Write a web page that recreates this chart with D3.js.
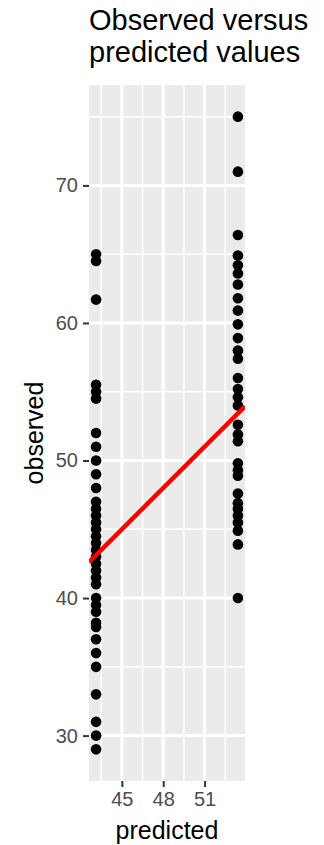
<!DOCTYPE html>
<html>
<head>
<meta charset="utf-8">
<script src="https://cdn.jsdelivr.net/npm/d3@7"></script>
<style>
  html, body { margin: 0; padding: 0; background: #fff; }
  svg { display: block; }
  text { font-family: "Liberation Sans", Arial, Helvetica, sans-serif; }
</style>
</head>
<body>
<svg id="chart" width="324" height="845"></svg>
<script>
// Fitted (predicted) value for each of the two groups
const predictedLevels = [43.13, 53.42];

// Observed values in the lower-prediction group
const observedLow = [65, 64.5, 61.7, 55.5, 55, 54.5, 52, 51, 50, 49, 48, 47,
  46.5, 46, 45.5, 45, 44.5, 44, 43.5, 43, 42.5, 42, 41.5, 41, 40, 39.5, 39,
  38.2, 37.9, 37, 36, 35, 33, 31, 30, 29];

// Observed values in the higher-prediction group
const observedHigh = [75, 71, 66.4, 64.9, 64.2, 63.6, 62.8, 61.8, 60.9, 59.9,
  58.9, 58, 57.4, 56, 55.2, 54.6, 54, 52.6, 51.9, 51.4, 49.8, 49.3, 48.9,
  47.6, 46.9, 46.5, 46, 45.5, 44.9, 43.9, 40];

// Axis breaks
const xTicks = [45, 48, 51];
const xMinor = [43.5, 46.5, 49.5, 52.5];
const yTicks = [30, 40, 50, 60, 70];
const yMinor = [35, 45, 55, 65, 75];

// Reference line observed = predicted
const refIntercept = 0;
const refSlope = 1;

const points = [
  ...observedLow.map(v => ({ x: predictedLevels[0], y: v })),
  ...observedHigh.map(v => ({ x: predictedLevels[1], y: v }))
];

const panel = { left: 89, right: 245, top: 85, bottom: 781 };

// Expand data ranges by 5% on each side
function expanded(ext) {
  const pad = (ext[1] - ext[0]) * 0.05;
  return [ext[0] - pad, ext[1] + pad];
}
const xDomain = expanded(d3.extent(points, d => d.x));
const yDomain = expanded(d3.extent(points, d => d.y));

const x = d3.scaleLinear().domain(xDomain).range([panel.left, panel.right]);
const y = d3.scaleLinear().domain(yDomain).range([panel.bottom, panel.top]);

const svg = d3.select("#chart");

svg.append("defs").append("clipPath").attr("id", "panel-clip")
  .append("rect")
  .attr("x", panel.left).attr("y", panel.top)
  .attr("width", panel.right - panel.left)
  .attr("height", panel.bottom - panel.top);

// Panel background
svg.append("rect")
  .attr("x", panel.left).attr("y", panel.top)
  .attr("width", panel.right - panel.left)
  .attr("height", panel.bottom - panel.top)
  .attr("fill", "#EBEBEB");

const grid = svg.append("g").attr("clip-path", "url(#panel-clip)");

// Minor grid
grid.selectAll(".xminor").data(xMinor).join("line")
  .attr("x1", d => x(d)).attr("x2", d => x(d))
  .attr("y1", panel.top).attr("y2", panel.bottom)
  .attr("stroke", "#fff").attr("stroke-width", 1.5);
grid.selectAll(".yminor").data(yMinor).join("line")
  .attr("y1", d => y(d)).attr("y2", d => y(d))
  .attr("x1", panel.left).attr("x2", panel.right)
  .attr("stroke", "#fff").attr("stroke-width", 1.5);

// Major grid
grid.selectAll(".xmajor").data(xTicks).join("line")
  .attr("x1", d => x(d)).attr("x2", d => x(d))
  .attr("y1", panel.top).attr("y2", panel.bottom)
  .attr("stroke", "#fff").attr("stroke-width", 3);
grid.selectAll(".ymajor").data(yTicks).join("line")
  .attr("y1", d => y(d)).attr("y2", d => y(d))
  .attr("x1", panel.left).attr("x2", panel.right)
  .attr("stroke", "#fff").attr("stroke-width", 3);

// Points
grid.selectAll("circle").data(points).join("circle")
  .attr("cx", d => x(d.x)).attr("cy", d => y(d.y))
  .attr("r", 5.3).attr("fill", "#000");

// Reference line across the full panel
grid.append("line")
  .attr("x1", x(xDomain[0])).attr("y1", y(refIntercept + refSlope * xDomain[0]))
  .attr("x2", x(xDomain[1])).attr("y2", y(refIntercept + refSlope * xDomain[1]))
  .attr("stroke", "#FF0000").attr("stroke-width", 4.5);

// Axes
const yAxis = d3.axisLeft(y).tickValues(yTicks).tickSize(6).tickPadding(5);
const xAxis = d3.axisBottom(x).tickValues(xTicks).tickSize(6).tickPadding(5);

function styleAxis(g) {
  g.select(".domain").remove();
  g.selectAll(".tick line").attr("stroke", "#333333").attr("stroke-width", 2);
  g.selectAll(".tick text")
    .attr("fill", "#4D4D4D")
    .style("font-size", "20px")
    .style("font-family", '"Liberation Sans", Arial, Helvetica, sans-serif');
}

svg.append("g").attr("transform", `translate(${panel.left},0)`)
  .call(yAxis).call(styleAxis);
svg.append("g").attr("transform", `translate(0,${panel.bottom})`)
  .call(xAxis).call(styleAxis);

// Axis titles
svg.append("text")
  .attr("x", (panel.left + panel.right) / 2).attr("y", 839)
  .attr("text-anchor", "middle")
  .style("font-size", "25px").attr("fill", "#000")
  .text("predicted");

svg.append("text")
  .attr("transform", `translate(43,${(panel.top + panel.bottom) / 2}) rotate(-90)`)
  .attr("text-anchor", "middle")
  .style("font-size", "25px").attr("fill", "#000")
  .text("observed");

// Two-line title
const title = svg.append("text")
  .attr("x", panel.left).attr("y", 29.5)
  .style("font-size", "29px").attr("fill", "#000");
title.append("tspan").attr("x", panel.left).attr("y", 29.5).text("Observed versus");
title.append("tspan").attr("x", panel.left).attr("y", 62).text("predicted values");
</script>
</body>
</html>
